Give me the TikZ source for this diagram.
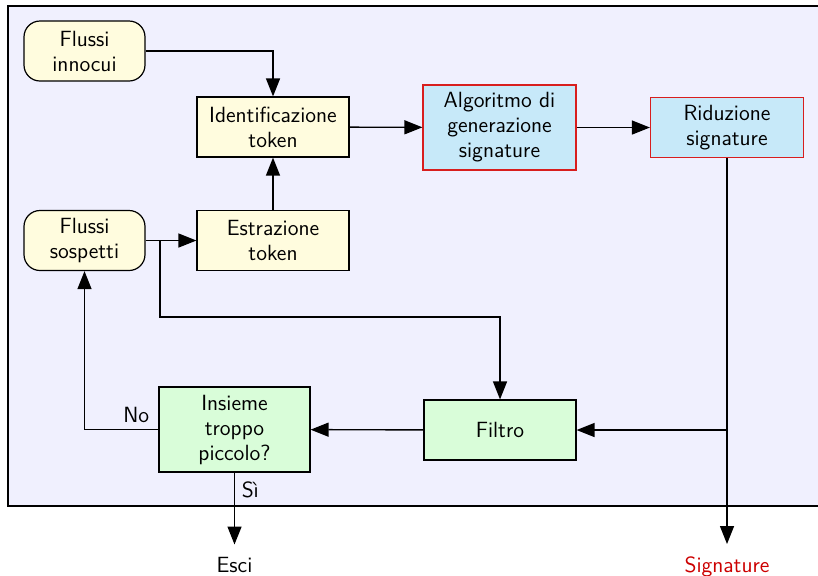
\documentclass[tikz,border=0pt]{standalone}
\usepackage{fontspec}
\usetikzlibrary{arrows.meta}
\definecolor{sfondo}{HTML}{F0F0FE}
\definecolor{giallo}{HTML}{FFFCDE}
\definecolor{azzurro}{HTML}{C7E9F9}
\definecolor{verde}{HTML}{D9FDD9}
\definecolor{rosso}{HTML}{D81E1E}
\definecolor{scritta}{HTML}{CC0000}
\begin{document}
\begin{tikzpicture}[x = 0.5pt, y = -0.5pt,
    font = \sffamily\fontsize{11}{12.5}\selectfont,
    every node/.style = {align = center, line width = 0.6pt},
    flusso/.style = {draw, fill = giallo, rounded corners = 8pt, minimum width = 60.5pt, minimum height = 30pt},
    passo/.style = {draw, fill = giallo, minimum width = 76pt, minimum height = 30pt},
    firma/.style = {draw = rosso, fill = azzurro, minimum width = 76.5pt, minimum height = 30pt},
    verifica/.style = {draw, fill = verde, minimum width = 76pt, minimum height = 30pt},
    freccia/.style = {-{Triangle[length = 9pt, width = 7pt]}, line width = 0.7pt}]
    \useasboundingbox (0,0) rectangle (818,575);
    \draw [fill = sfondo, line width = 0.6pt] (8,6) rectangle (818.5,506);
    % nodi
    \node [flusso] (innocui) at (84.5,51) {Flussi\\innocui};
    \node [flusso] (sospetti) at (84.5,240.5) {Flussi\\sospetti};
    \node [passo] (ident) at (273,127) {Identificazione\\token};
    \node [passo] (estr) at (273,240.5) {Estrazione\\token};
    \node [firma, minimum height = 42.5pt] (algo) at (499.5,127.5) {Algoritmo di\\generazione\\signature};
    \node [firma] (rid) at (727,127.5) {Riduzione\\signature};
    \node [verifica] (filtro) at (500,430) {Filtro};
    \node [verifica, minimum width = 75.5pt, minimum height = 42.5pt] (insieme) at (234.5,429.5) {Insieme\\troppo\\piccolo?};
    \node [anchor = base] (esci) at (234.5,572) {Esci};
    \node [anchor = base, text = scritta] (signature) at (727,572) {Signature};
    \coordinate (bivio) at (160,240.5);
    \coordinate (gomito) at (160,317);
    \coordinate (ritorno) at (727,430);
    % collegamenti
    \draw [freccia] (innocui.east) -| (ident.north);
    \draw [freccia] (estr) -- (ident);
    \draw [freccia] (ident) -- (algo);
    \draw [freccia] (algo) -- (rid);
    \draw [freccia] (sospetti) -- (estr);
    \draw [freccia] (bivio) -- (gomito) -| (filtro.north);
    \draw [freccia, shorten > = 2.5pt] (rid.south) -- (signature.north);
    \draw [freccia] (ritorno) -- (filtro.east);
    \draw [freccia] (filtro) -- (insieme);
    \draw [freccia] (insieme.west) -| (sospetti.south) node [pos = .15, above] {No};
    \draw [freccia, shorten > = 2.5pt] (insieme.south) -- (esci.north) node [pos = .22, right] {Sì};
  \end{tikzpicture}
\end{document}
